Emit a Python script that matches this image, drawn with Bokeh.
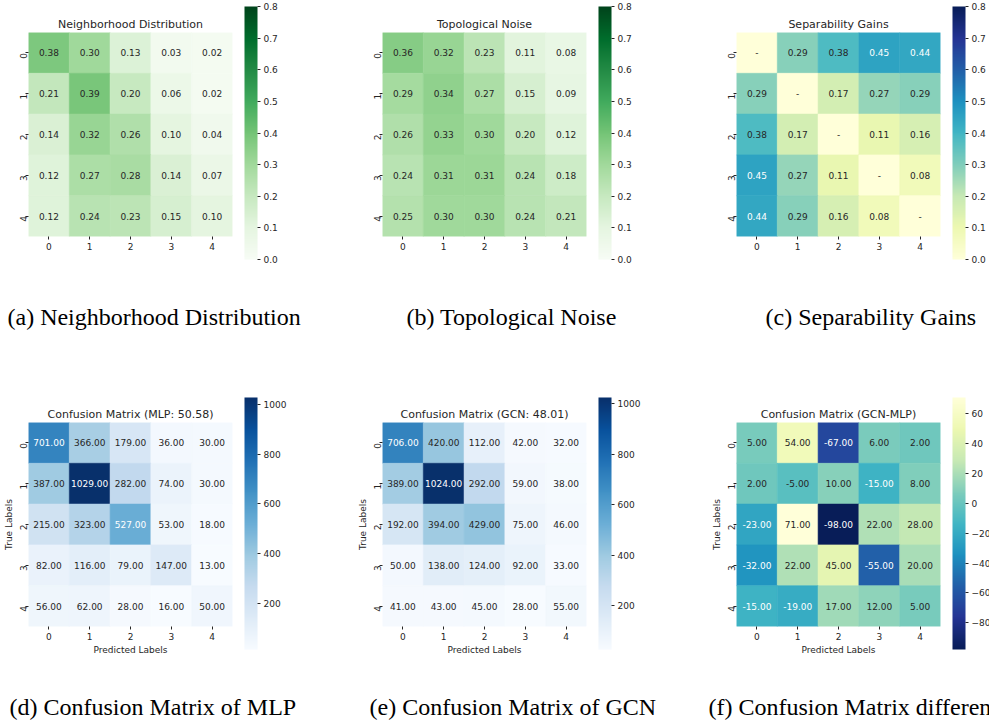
import numpy as np
from bokeh.plotting import figure
from bokeh.layouts import row, column
from bokeh.models import (LinearColorMapper, ColorBar, FixedTicker, PrintfTickFormatter,
                          ColumnDataSource)
from bokeh.transform import transform
from bokeh.core.properties import value
from bokeh.palettes import Greens9, Blues9, YlGnBu9
from bokeh.embed import file_html
from bokeh.resources import INLINE

# ---------------- data ----------------
classes = ["0", "1", "2", "3", "4"]

neighborhood = [
    [0.38, 0.30, 0.13, 0.03, 0.02],
    [0.21, 0.39, 0.20, 0.06, 0.02],
    [0.14, 0.32, 0.26, 0.10, 0.04],
    [0.12, 0.27, 0.28, 0.14, 0.07],
    [0.12, 0.24, 0.23, 0.15, 0.10],
]
topo_noise = [
    [0.36, 0.32, 0.23, 0.11, 0.08],
    [0.29, 0.34, 0.27, 0.15, 0.09],
    [0.26, 0.33, 0.30, 0.20, 0.12],
    [0.24, 0.31, 0.31, 0.24, 0.18],
    [0.25, 0.30, 0.30, 0.24, 0.21],
]
separability = [
    [0.00, 0.29, 0.38, 0.45, 0.44],
    [0.29, 0.00, 0.17, 0.27, 0.29],
    [0.38, 0.17, 0.00, 0.11, 0.16],
    [0.45, 0.27, 0.11, 0.00, 0.08],
    [0.44, 0.29, 0.16, 0.08, 0.00],
]
cm_mlp = [
    [701, 366, 179, 36, 30],
    [387, 1029, 282, 74, 30],
    [215, 323, 527, 53, 18],
    [82, 116, 79, 147, 13],
    [56, 62, 28, 16, 50],
]
cm_gcn = [
    [706, 420, 112, 42, 32],
    [389, 1024, 292, 59, 38],
    [192, 394, 429, 75, 46],
    [50, 138, 124, 92, 33],
    [41, 43, 45, 28, 55],
]
cm_diff = [
    [5, 54, -67, 6, 2],
    [2, -5, 10, -15, 8],
    [-23, 71, -98, 22, 28],
    [-32, 22, 45, -55, 20],
    [-15, -19, 17, 12, 5],
]

titles = ["Neighborhood Distribution", "Topological Noise", "Separability Gains",
          "Confusion Matrix (MLP: 50.58)", "Confusion Matrix (GCN: 48.01)",
          "Confusion Matrix (GCN-MLP)"]
captions = ["(a) Neighborhood Distribution", "(b) Topological Noise", "(c) Separability Gains",
            "(d) Confusion Matrix of MLP", "(e) Confusion Matrix of GCN",
            "(f) Confusion Matrix difference"]
ticks_prob = [0.0, 0.1, 0.2, 0.3, 0.4, 0.5, 0.6, 0.7, 0.8]
ticks_counts = [200, 400, 600, 800, 1000]
ticks_diff = [-80, -60, -40, -20, 0, 20, 40, 60]

# ---------------- styling helpers ----------------
FONT = "DejaVu Sans"
SERIF = "Liberation Serif"
TXT = "#262626"


def ramp(hexes, n=256):
    rgb = np.array([[int(h[i:i + 2], 16) for i in (1, 3, 5)] for h in hexes], float) / 255.0
    pos = np.linspace(0, 1, len(hexes))
    t = np.linspace(0, 1, n)
    out = np.stack([np.interp(t, pos, rgb[:, k]) for k in range(3)], axis=1)
    return ["#%02x%02x%02x" % tuple(int(round(c * 255)) for c in col) for col in out]


GREENS = ramp(list(reversed(Greens9)))
BLUES = ramp(list(reversed(Blues9)))
YLGNBU = ramp(list(reversed(YlGnBu9)))
YLGNBU_R = list(reversed(YLGNBU))


def text_color(hexc):
    rgb = np.array([int(hexc[i:i + 2], 16) for i in (1, 3, 5)], float) / 255.0
    lin = np.where(rgb <= 0.03928, rgb / 12.92, ((rgb + 0.055) / 1.055) ** 2.4)
    lum = lin.dot([0.2126, 0.7152, 0.0722])
    return TXT if lum > 0.408 else "#ffffff"


def make_panel(mat, fmt, pal, low, high, title, cb_ticks, cb_fmt,
               width, height, bl, br, bt, bb, cb_height,
               diag_dash=False, axis_labels=False, overrides=None):
    p = figure(width=width, height=height, x_range=classes, y_range=classes[::-1],
               output_backend="svg", toolbar_location=None, tools="",
               min_border_left=bl, min_border_right=br,
               min_border_top=bt, min_border_bottom=bb)
    p.background_fill_color = "white"
    p.border_fill_color = "white"
    p.outline_line_color = None
    p.grid.visible = False

    mapper = LinearColorMapper(palette=pal, low=low, high=high)
    xs, ys, vs, ts, cs = [], [], [], [], []
    n = len(pal)
    for i in range(5):
        for j in range(5):
            v = mat[i][j]
            xs.append(classes[j])
            ys.append(classes[i])
            vs.append(v)
            ts.append("-" if (diag_dash and i == j) else fmt % v)
            idx = int((v - low) / (high - low) * n)
            idx = min(n - 1, max(0, idx))
            cs.append(text_color(pal[idx]))
    src = ColumnDataSource(dict(x=xs, y=ys, v=vs, t=ts, c=cs))
    p.rect("x", "y", 1, 1, source=src, fill_color=transform("v", mapper),
           line_color=transform("v", mapper), line_width=0.6)
    p.text("x", "y", text="t", source=src, text_color="c", text_align="center",
           text_baseline="middle", text_font=value(FONT), text_font_size="9px")

    for ax in (p.xaxis[0], p.yaxis[0]):
        ax.axis_line_color = None
        ax.major_tick_in = 0
        ax.major_tick_out = 3
        ax.major_tick_line_color = TXT
        ax.minor_tick_line_color = None
        ax.major_label_text_font = FONT
        ax.major_label_text_font_size = "9px"
        ax.major_label_text_color = TXT
        ax.major_label_standoff = 3
        ax.axis_label_text_font = FONT
        ax.axis_label_text_font_size = "9px"
        ax.axis_label_text_font_style = "normal"
        ax.axis_label_text_color = TXT
        ax.axis_label_standoff = 0
    p.yaxis.major_label_orientation = np.pi / 2
    p.yaxis.major_label_standoff = 2

    if axis_labels:
        p.xaxis.axis_label = "Predicted Labels"
        p.xaxis.axis_label_standoff = 2
        p.yaxis.axis_label = "True Labels"

    p.title.text = title
    p.title.align = "center"
    p.title.text_font = FONT
    p.title.text_font_size = "11px"
    p.title.text_font_style = "normal"
    p.title.text_color = TXT
    p.title.standoff = 4

    cb = ColorBar(color_mapper=mapper, location=(216, -23), width=13, height=cb_height,
                  padding=0, margin=0, ticker=FixedTicker(ticks=cb_ticks),
                  formatter=PrintfTickFormatter(format=cb_fmt),
                  major_tick_in=0, major_tick_out=3, major_tick_line_color=TXT,
                  minor_tick_line_color=None, label_standoff=3,
                  major_label_text_font=FONT, major_label_text_font_size="9px",
                  major_label_text_color=TXT, background_fill_color=None,
                  bar_line_color=None, border_line_color=None)
    if overrides:
        cb.major_label_overrides = overrides
    p.add_layout(cb)
    return p


def make_caption(text, width, height, top, offset):
    c = figure(width=width, height=height, output_backend="svg", toolbar_location=None,
               tools="", x_axis_location=None, y_axis_location=None,
               min_border_left=0, min_border_right=0, min_border_top=top, min_border_bottom=0)
    c.grid.visible = False
    c.outline_line_color = None
    c.background_fill_color = "white"
    c.border_fill_color = "white"
    c.title.text = text
    c.title.align = "left"
    c.title.offset = offset
    c.title.standoff = 0
    c.title.text_font = SERIF
    c.title.text_font_size = "24px"
    c.title.text_font_style = "normal"
    c.title.text_color = "black"
    return c


TOP_H, TOPCAP_H, BOT_H, BOTCAP_H = 266, 78, 314, 65
neg_over = {t: ("\u2212%d" % -t) for t in ticks_diff if t < 0}

pa = make_panel(neighborhood, "%.2f", GREENS, 0.0, 0.8, titles[0], ticks_prob, "%.1f",
                329, TOP_H, 28, 97, 32, 30, 253)
pb = make_panel(topo_noise, "%.2f", GREENS, 0.0, 0.8, titles[1], ticks_prob, "%.1f",
                330, TOP_H, 53, 73, 32, 30, 253)
pc = make_panel(separability, "%.2f", YLGNBU, 0.0, 0.8, titles[2], ticks_prob, "%.1f",
                330, TOP_H, 77, 49, 32, 30, 253, diag_dash=True)

pd_ = make_panel(cm_mlp, "%.2f", BLUES, 13, 1029, titles[3], ticks_counts, "%d",
                 329, BOT_H, 28, 97, 78, 32, 252, axis_labels=True)
pe = make_panel(cm_gcn, "%.2f", BLUES, 28, 1024, titles[4], ticks_counts, "%d",
                330, BOT_H, 53, 73, 78, 32, 252, axis_labels=True)
pf = make_panel(cm_diff, "%.2f", YLGNBU_R, -98, 71, titles[5], ticks_diff, "%d",
                330, BOT_H, 77, 49, 78, 32, 252, axis_labels=True, overrides=neg_over)

ca = make_caption(captions[0], 329, TOPCAP_H, 63, 7)
cb_ = make_caption(captions[1], 330, TOPCAP_H, 63, 77)
cc = make_caption(captions[2], 330, TOPCAP_H, 63, 106)
cd = make_caption(captions[3], 329, BOTCAP_H, 61, 9)
ce = make_caption(captions[4], 330, BOTCAP_H, 61, 40)
cf = make_caption(captions[5], 330, BOTCAP_H, 61, 49)

layout = column(row(pa, pb, pc), row(ca, cb_, cc), row(pd_, pe, pf), row(cd, ce, cf))

with open("out.html", "w") as f:
    f.write(file_html(layout, INLINE))
